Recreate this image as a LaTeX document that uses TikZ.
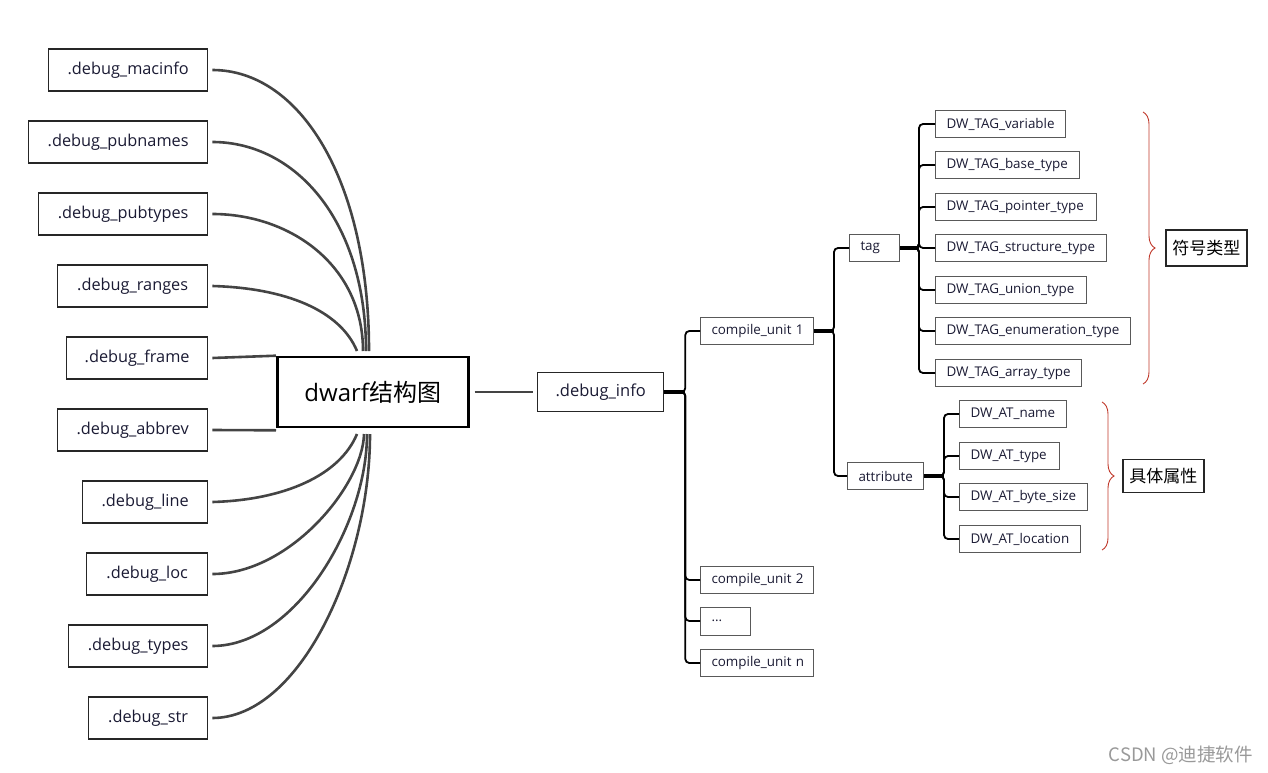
\documentclass[tikz,border=0pt]{standalone}
\usepackage{fontspec}
\setmainfont{Open Sans}
\newfontfamily\cjk{Noto Sans CJK SC}
\usetikzlibrary{decorations.pathreplacing}
\definecolor{txt}{HTML}{1A1A33}
\definecolor{curve}{HTML}{444444}
\definecolor{brc}{HTML}{C0392B}
\tikzset{
  lbox/.style={draw=black!85, line width=1.3pt, anchor=west, minimum height=42pt, text=txt, font=\fontsize{16.3}{19}\selectfont, inner sep=0pt},
  sbox/.style={draw=black!65, line width=1pt, anchor=west, minimum height=27pt, text=txt, font=\fontsize{13.4}{16}\selectfont, inner xsep=11pt, inner ysep=0pt, align=left},
  lcurve/.style={draw=curve, line width=2.6pt},
  tree/.style={draw=black, line width=1.8pt, rounded corners=4pt},
  stub/.style={draw=black, line width=3.2pt},
  rbrace/.style={draw=brc, line width=0.9pt, decorate, decoration={brace, amplitude=12pt}},
}
\begin{document}
\begin{tikzpicture}[x=1pt,y=-1pt]
\useasboundingbox (0,0) rectangle (1268,773);
% left boxes
\node[lbox, minimum width=159pt] (mac) at (48,70) {.debug\_macinfo};
\node[lbox, minimum width=179pt] (pubn) at (28,142) {.debug\_pubnames};
\node[lbox, minimum width=169pt] (pubt) at (38,214) {.debug\_pubtypes};
\node[lbox, minimum width=150pt] (rng) at (57,286) {.debug\_ranges};
\node[lbox, minimum width=141pt] (frm) at (66,358) {.debug\_frame};
\node[lbox, minimum width=150pt] (abb) at (57,430) {.debug\_abbrev};
\node[lbox, minimum width=125pt] (lin) at (82,502) {.debug\_line};
\node[lbox, minimum width=121pt] (loc) at (86,574) {.debug\_loc};
\node[lbox, minimum width=139pt] (typ) at (68,646) {.debug\_types};
\node[lbox, minimum width=119pt] (str) at (88,718) {.debug\_str};
% center
\node[draw=black, line width=2.6pt, anchor=west, minimum width=191pt, minimum height=70pt, inner sep=0pt, font=\fontsize{24}{28}\selectfont] (c) at (276,392) {dwarf{\cjk 结构图}};
\coordinate (t1) at (369,351);
\coordinate (t2) at (366,351);
\coordinate (t3) at (363,351);
\coordinate (t4) at (357,351);
\coordinate (b1) at (357,434);
\coordinate (b2) at (364,434);
\coordinate (b3) at (367,434);
\coordinate (b4) at (370,434);
\draw[lcurve] ([xshift=4pt]mac.east) .. controls (300,70) and (369,180) .. (t1);
\draw[lcurve] ([xshift=4pt]pubn.east) .. controls (295,142) and (366,220) .. (t2);
\draw[lcurve] ([xshift=4pt]pubt.east) .. controls (290,214) and (363,265) .. (t3);
\draw[lcurve] ([xshift=4pt]rng.east) .. controls (285,288) and (340,310) .. (t4);
\draw[lcurve] ([xshift=4pt]frm.east) -- (c.north west);
\draw[lcurve] ([xshift=4pt]abb.east) -- ([yshift=-2pt]c.south west);
\draw[lcurve] ([xshift=4pt]lin.east) .. controls (285,500) and (340,475) .. (b1);
\draw[lcurve] ([xshift=4pt]loc.east) .. controls (290,574) and (363,485) .. (b2);
\draw[lcurve] ([xshift=4pt]typ.east) .. controls (295,646) and (367,525) .. (b3);
\draw[lcurve] ([xshift=4pt]str.east) .. controls (300,718) and (370,565) .. (b4);
% debug_info
\node[draw=black!85, line width=1.3pt, anchor=west, minimum width=126pt, minimum height=39pt, inner sep=0pt, text=txt, font=\fontsize{16.5}{19}\selectfont] (di) at (537,392) {.debug\_info};
\draw[lcurve] ([xshift=5pt]c.east) -- ([xshift=-4pt]di.west);
% compile units
\node[sbox, text width=91pt] (cu1) at (700,331) {\mbox{compile\_unit 1}};
\node[sbox, text width=91pt] (cu2) at (700,580) {\mbox{compile\_unit 2}};
\node[sbox, text width=28pt, minimum height=28pt] (cud) at (700,621) {...};
\node[sbox, text width=91pt] (cun) at (700,663) {\mbox{compile\_unit n}};
\foreach \k in {cu1,cu2,cud,cun}{\draw[tree] (di.east) -- ++(21,0) |- (\k.west);}
\draw[stub] (di.east) -- ++(21,0);
% tag / attribute
\node[sbox, text width=28pt] (tag) at (849,248) {tag};
\node[sbox, text width=54pt] (att) at (847,476) {attribute};
\foreach \k in {tag,att}{\draw[tree] (cu1.east) -- ++(20,0) |- (\k.west);}
\draw[stub] (cu1.east) -- ++(20,0);
% TAG children
\node[sbox, text width=108pt] (v1) at (935,124) {\mbox{DW\_TAG\_variable}};
\node[sbox, text width=122pt] (v2) at (935,165) {\mbox{DW\_TAG\_base\_type}};
\node[sbox, text width=139pt] (v3) at (935,207) {\mbox{DW\_TAG\_pointer\_type}};
\node[sbox, text width=149pt] (v4) at (935,248) {\mbox{DW\_TAG\_structure\_type}};
\node[sbox, text width=129pt] (v5) at (935,290) {\mbox{DW\_TAG\_union\_type}};
\node[sbox, text width=173pt] (v6) at (935,331) {\mbox{DW\_TAG\_enumeration\_type}};
\node[sbox, text width=124pt] (v7) at (935,373) {\mbox{DW\_TAG\_array\_type}};
\foreach \k in {v1,v2,v3,v4,v5,v6,v7}{\draw[tree] (tag.east) -- ++(19,0) |- (\k.west);}
\draw[stub] (tag.east) -- ++(19,0);
% AT children
\node[sbox, text width=85pt] (a1) at (959,414) {\mbox{DW\_AT\_name}};
\node[sbox, text width=78pt] (a2) at (959,456) {\mbox{DW\_AT\_type}};
\node[sbox, text width=106pt] (a3) at (959,497) {\mbox{DW\_AT\_byte\_size}};
\node[sbox, text width=99pt] (a4) at (959,539) {\mbox{DW\_AT\_location}};
\foreach \k in {a1,a2,a3,a4}{\draw[tree] (att.east) -- ++(20,0) |- (\k.west);}
\draw[stub] (att.east) -- ++(20,0);
% braces
\coordinate (br1a) at (1143,112);
\coordinate (br1b) at (1143,384);
\coordinate (br2a) at (1102,402);
\coordinate (br2b) at (1102,550);
\draw[rbrace] (br1a) -- (br1b);
\draw[rbrace] (br2a) -- (br2b);
\node[draw=black!85, line width=1.5pt, anchor=west, minimum width=81pt, minimum height=36pt, inner sep=0pt, font=\cjk\fontsize{17}{20}\selectfont] (fh) at (1165,248) {符号类型};
\node[draw=black!85, line width=1.5pt, anchor=west, minimum width=81pt, minimum height=33pt, inner sep=0pt, font=\cjk\fontsize{17}{20}\selectfont] (jt) at (1122,476) {具体属性};
% watermark
\node[anchor=east, text=black!40, inner sep=0pt, font=\cjk\fontsize{18.5}{22}\selectfont] (wm) at (1253,755) {CSDN @迪捷软件};
\end{tikzpicture}
\end{document}
